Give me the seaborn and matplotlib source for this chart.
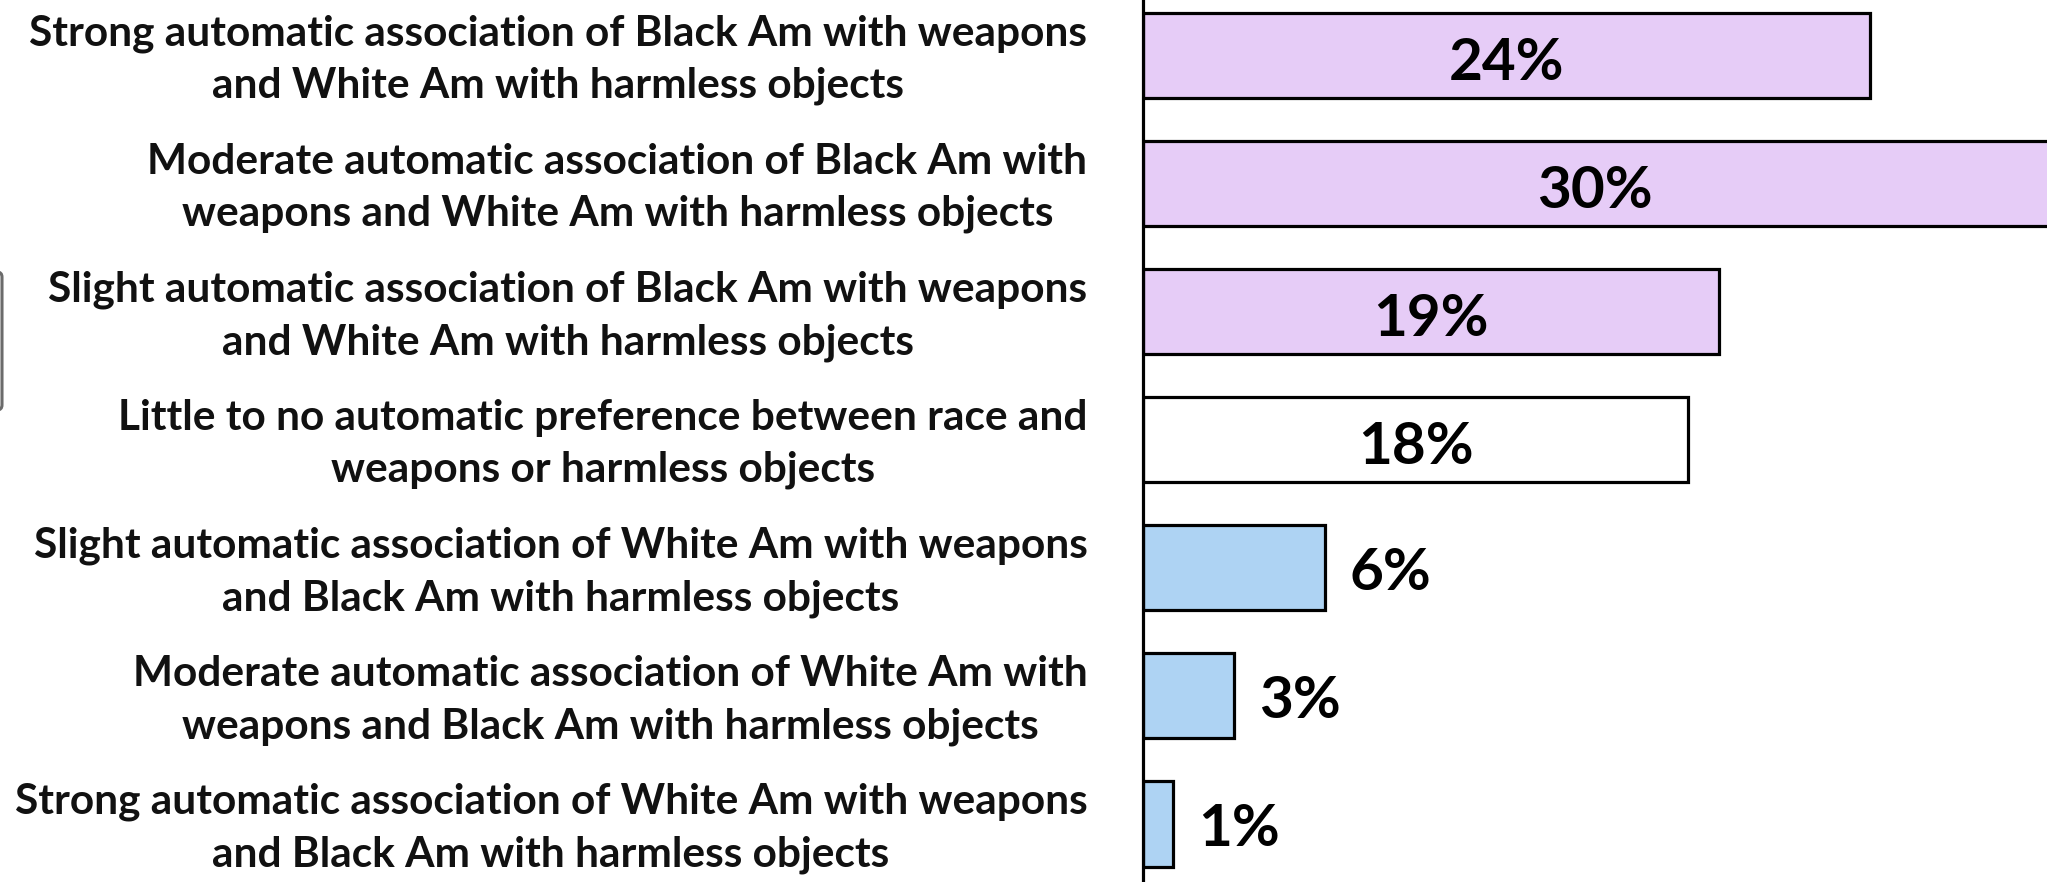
import matplotlib
matplotlib.use("Agg")
import matplotlib.pyplot as plt
from matplotlib.patches import FancyBboxPatch
from matplotlib.transforms import ScaledTranslation
import seaborn as sns
import pandas as pd

# ---- data ----
categories = [
    "Strong automatic association of Black Am with weapons\nand White Am with harmless objects",
    "Moderate automatic association of Black Am with\nweapons and White Am with harmless objects",
    "Slight automatic association of Black Am with weapons\nand White Am with harmless objects",
    "Little to no automatic preference between race and\nweapons or harmless objects",
    "Slight automatic association of White Am with weapons\nand Black Am with harmless objects",
    "Moderate automatic association of White Am with\nweapons and Black Am with harmless objects",
    "Strong automatic association of White Am with weapons\nand Black Am with harmless objects",
]
values = [24, 30, 19, 18, 6, 3, 1]
value_labels = ["24%", "30%", "19%", "18%", "6%", "3%", "1%"]

# ---- style ----
PURPLE = "#E6CCF7"
WHITE = "#FFFFFF"
BLUE = "#AED3F3"
bar_colors = [PURPLE, PURPLE, PURPLE, WHITE, BLUE, BLUE, BLUE]

sns.set_theme(style="white")
plt.rcParams["font.family"] = ["Lato", "DejaVu Sans"]

df = pd.DataFrame({"category": categories, "value": values})

fig = plt.figure(figsize=(20.47, 8.82), dpi=100)
ax = fig.add_axes([1143 / 2047, 0.0, 1 - 1143 / 2047, 1.0])

sns.barplot(
    data=df, x="value", y="category", hue="category",
    palette=bar_colors, legend=False, dodge=False, saturation=1,
    orient="h", width=0.665, ax=ax,
    edgecolor="black", linewidth=2.3,
)

ax.set_xlim(0, 29.83)
ax.set_ylim(6.453, -0.433)
ax.set_xlabel("")
ax.set_ylabel("")
ax.set_xticks([])

for s in ["top", "right", "bottom"]:
    ax.spines[s].set_visible(False)
ax.spines["left"].set_color("black")
ax.spines["left"].set_linewidth(2.3)

ax.tick_params(axis="y", length=0, pad=40)
shift_up = ScaledTranslation(0, 4.5 / 72, fig.dpi_scale_trans)
for lbl in ax.get_yticklabels():
    lbl.set_fontsize(30.5)
    lbl.set_fontweight("bold")
    lbl.set_color("#111111")
    lbl.set_multialignment("center")
    lbl.set_linespacing(1.45)
    lbl.set_transform(lbl.get_transform() + shift_up)

# value labels
for cont, v, txt in zip(ax.containers, values, value_labels):
    if v >= 10:
        anns = ax.bar_label(cont, labels=[txt], label_type="center",
                            fontsize=42, fontweight="bold", color="black")
        for a in anns:
            a.xyann = (0, -5.5)
    else:
        anns = ax.bar_label(cont, labels=[txt], label_type="edge", padding=18,
                            fontsize=42, fontweight="bold", color="black")
        for a in anns:
            a.xyann = (18, -4)

# grey rounded frame edge at far left (screenshot artefact)
frame = FancyBboxPatch((-0.3, 4.72), 0.32, 1.38,
                       boxstyle="round,pad=0,rounding_size=0.05",
                       transform=fig.dpi_scale_trans,
                       facecolor="none", edgecolor="#6b6b6b", linewidth=2.2,
                       clip_on=False)
fig.patches.append(frame)

fig.savefig("out.png", dpi=100, facecolor="white")
